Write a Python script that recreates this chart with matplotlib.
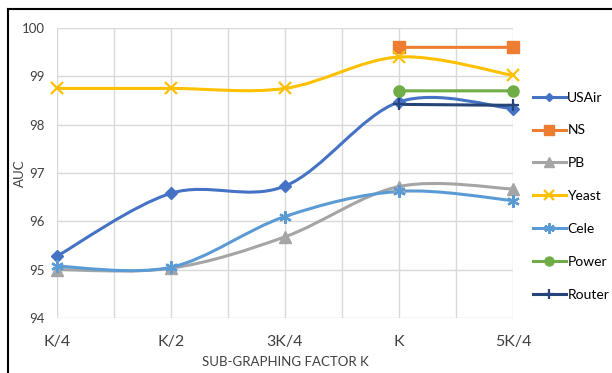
import numpy as np
import matplotlib.pyplot as plt
from matplotlib.path import Path
from matplotlib.patches import PathPatch
from matplotlib.lines import Line2D

plt.rcParams['font.family'] = ['Lato', 'DejaVu Sans']

# Dados
categorias = ['K/4', 'K/2', '3K/4', 'K', '5K/4']
usair = [95.28, 96.58, 96.73, 98.47, 98.33]
ns = [np.nan, np.nan, np.nan, 99.6, 99.6]
pb = [95.0, 95.03, 95.68, 96.72, 96.67]
yeast = [98.75, 98.75, 98.75, 99.4, 99.02]
cele = [95.07, 95.05, 96.1, 96.62, 96.43]
power = [np.nan, np.nan, np.nan, 98.7, 98.7]
router = [np.nan, np.nan, np.nan, 98.42, 98.4]

series = [
    ('USAir', usair, '#4472C4', 'D', 6),
    ('NS', ns, '#ED7D31', 's', 8),
    ('PB', pb, '#A5A5A5', '^', 8),
    ('Yeast', yeast, '#FFC000', 'x', 8),
    ('Cele', cele, '#5B9BD5', (6, 2, 0), 9),
    ('Power', power, '#70AD47', 'o', 8),
    ('Router', router, '#264478', '+', 9),
]


def caminho_suave(xs, ys):
    # curva suavizada estilo Excel (Catmull-Rom -> Bezier)
    pts = np.column_stack([xs, ys])
    n = len(pts)
    verts = [pts[0]]
    codes = [Path.MOVETO]
    for i in range(n - 1):
        p0 = pts[i - 1] if i > 0 else pts[i]
        p1 = pts[i]
        p2 = pts[i + 1]
        p3 = pts[i + 2] if i + 2 < n else pts[i + 1]
        c1 = p1 + (p2 - p0) / 6.0
        c2 = p2 - (p3 - p1) / 6.0
        verts += [c1, c2, p2]
        codes += [Path.CURVE4] * 3
    return Path(verts, codes)


fig = plt.figure(figsize=(6.12, 3.73), dpi=100)
ax = fig.add_axes([57 / 612, 1 - 318 / 373, (513 - 57) / 612, (318 - 28) / 373])

x = np.arange(len(categorias))
handles = []
for nome, valores, cor, marcador, tam in series:
    v = np.array(valores, dtype=float)
    ok = ~np.isnan(v)
    path = caminho_suave(x[ok].astype(float), v[ok])
    ax.add_patch(PathPatch(path, facecolor='none', edgecolor=cor, lw=2.2, zorder=3, clip_on=False))
    mew = 1.6 if marcador in ('x', '+') or isinstance(marcador, tuple) else 1
    ax.plot(x[ok], v[ok], linestyle='none', marker=marcador, color=cor, markersize=tam,
            markeredgewidth=mew, zorder=4, clip_on=False)
    handles.append(Line2D([], [], color=cor, lw=2.2, marker=marcador, markersize=tam - 1.5,
                          markeredgewidth=mew))

ax.set_xlim(0, 4)
ax.set_ylim(94, 100)
ax.set_xticks(x)
ax.set_xticklabels(categorias, fontsize=11.5, color='#404040')
ax.set_xticks(np.arange(0.5, 4, 1), minor=True)
ax.set_yticks(np.arange(94, 101, 1))
ax.tick_params(axis='y', labelsize=9.5, colors='#404040', length=0, pad=9)
ax.tick_params(axis='x', which='both', length=0, pad=12)
ax.grid(True, which='both', color='#D9D9D9', lw=1)
ax.set_axisbelow(True)
for s in ax.spines.values():
    s.set_visible(False)

ax.set_ylabel('AUC', fontsize=9.5, color='#404040', labelpad=-3)
ax.set_xlabel('SUB-GRAPHING FACTOR K', fontsize=9.5, color='#404040', labelpad=5)

fig.legend(handles, [s[0] for s in series], loc='upper left',
           bbox_to_anchor=(527 / 612, 1 - 86 / 373), frameon=False, fontsize=10,
           labelspacing=1.5, handlelength=2.4, handletextpad=0.1, borderaxespad=0)

# moldura preta (esquerda e topo)
fig.add_artist(Line2D([8 / 612, 8 / 612], [0, 1 - 9 / 373], color='black', lw=1.5))
fig.add_artist(Line2D([8 / 612, 1], [1 - 9 / 373, 1 - 9 / 373], color='black', lw=1.5))

fig.savefig('out.png', dpi=100)
